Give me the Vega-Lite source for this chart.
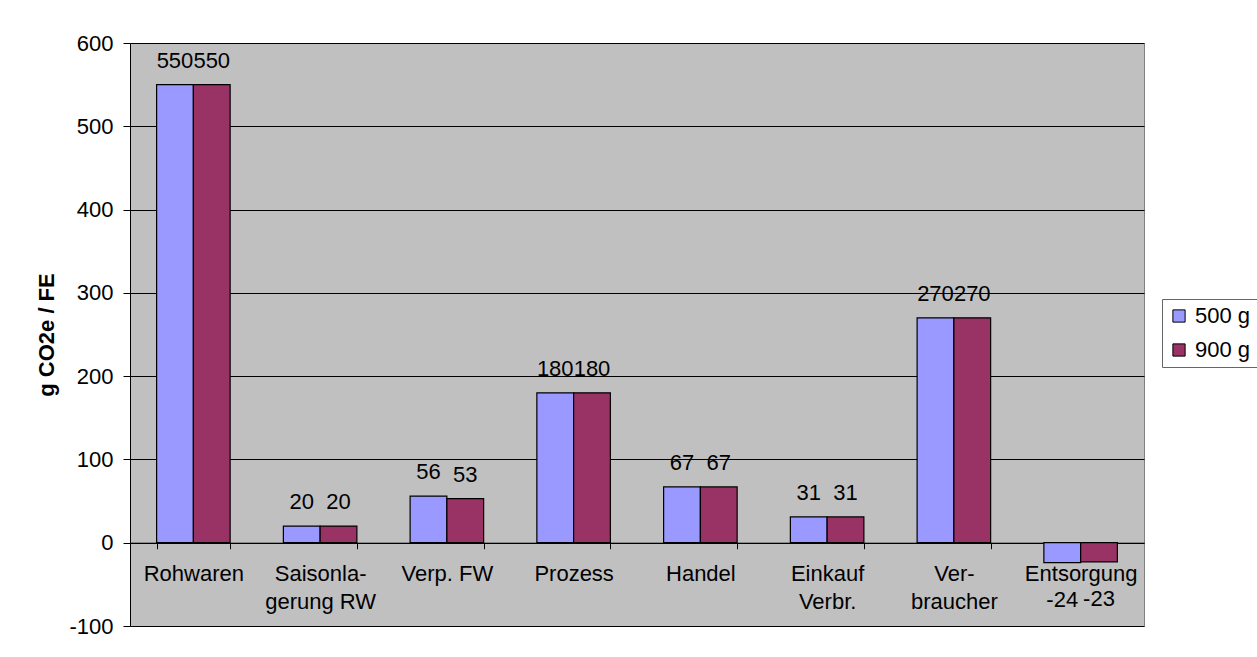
{
  "$schema": "https://vega.github.io/schema/vega-lite/v6.json",
  "autosize": {"type": "none"},
  "width": 1014,
  "height": 583,
  "padding": {"left": 130, "top": 43, "right": 113, "bottom": 31},
  "background": "#FFFFFF",
  "config": {
    "font": "Liberation Sans",
    "view": {"fill": "#C0C0C0", "stroke": "#808080", "strokeWidth": 1},
    "axis": {"labelFont": "Liberation Sans", "labelFontSize": 22, "labelColor": "#000000", "titleFont": "Liberation Sans"}
  },
  "data": {
    "values": [
      {"cat": "Rohwaren", "series": "500 g", "value": 550},
      {"cat": "Rohwaren", "series": "900 g", "value": 550},
      {"cat": "Saisonla-|gerung RW", "series": "500 g", "value": 20},
      {"cat": "Saisonla-|gerung RW", "series": "900 g", "value": 20},
      {"cat": "Verp. FW", "series": "500 g", "value": 56},
      {"cat": "Verp. FW", "series": "900 g", "value": 53},
      {"cat": "Prozess", "series": "500 g", "value": 180},
      {"cat": "Prozess", "series": "900 g", "value": 180},
      {"cat": "Handel", "series": "500 g", "value": 67},
      {"cat": "Handel", "series": "900 g", "value": 67},
      {"cat": "Einkauf|Verbr.", "series": "500 g", "value": 31},
      {"cat": "Einkauf|Verbr.", "series": "900 g", "value": 31},
      {"cat": "Ver-|braucher", "series": "500 g", "value": 270},
      {"cat": "Ver-|braucher", "series": "900 g", "value": 270},
      {"cat": "Entsorgung", "series": "500 g", "value": -24},
      {"cat": "Entsorgung", "series": "900 g", "value": -23}
    ]
  },
  "encoding": {
    "x": {
      "field": "cat",
      "type": "nominal",
      "sort": null,
      "scale": {"paddingInner": 0.42, "paddingOuter": 0.21},
      "axis": {
        "title": null,
        "offset": -83.29,
        "labelAngle": 0,
        "labelExpr": "split(datum.label, '|')",
        "labelLineHeight": 28,
        "labelPadding": 15,
        "tickBand": "extent",
        "tickSize": 6,
        "tickColor": "#000000",
        "domainColor": "#000000",
        "grid": false,
        "labelBaseline": "top"
      }
    },
    "xOffset": {"field": "series", "type": "nominal", "scale": {"paddingInner": 0, "paddingOuter": 0}},
    "y": {
      "field": "value",
      "type": "quantitative",
      "scale": {"domain": [-100, 600], "nice": false, "zero": false},
      "axis": {
        "title": "g CO2e / FE",
        "titleFontSize": 22,
        "titleFontWeight": "bold",
        "titleColor": "#000000",
        "titlePadding": 10,
        "values": [-100, 0, 100, 200, 300, 400, 500, 600],
        "labelExpr": "'' + datum.value",
        "tickSize": 7,
        "labelPadding": 10,
        "tickColor": "#000000",
        "domainColor": "#000000",
        "grid": true,
        "gridColor": "#000000",
        "gridWidth": 1
      }
    }
  },
  "layer": [
    {
      "mark": {"type": "bar", "stroke": "#000000", "strokeWidth": 1.2},
      "encoding": {
        "color": {
          "field": "series",
          "type": "nominal",
          "scale": {"domain": ["500 g", "900 g"], "range": ["#9999FF", "#993366"]},
          "legend": {
            "title": null,
            "orient": "none",
            "legendX": 1032,
            "legendY": 256,
            "direction": "vertical",
            "symbolType": "square",
            "symbolSize": 150,
            "symbolStrokeColor": "#000000",
            "symbolStrokeWidth": 1,
            "labelFontSize": 22,
            "labelFont": "Liberation Sans",
            "labelColor": "#000000",
            "labelOffset": 5,
            "rowPadding": 12,
            "padding": 6,
            "strokeColor": "#666666",
            "fillColor": "#FFFFFF"
          }
        }
      }
    },
    {
      "transform": [{"filter": "datum.value >= 0"}],
      "mark": {"type": "text", "fontSize": 22, "font": "Liberation Sans", "color": "#000000", "baseline": "alphabetic", "dy": -17},
      "encoding": {"text": {"field": "value", "type": "nominal"}}
    },
    {
      "transform": [{"filter": "datum.value < 0"}],
      "mark": {"type": "text", "fontSize": 22, "font": "Liberation Sans", "color": "#000000", "baseline": "alphabetic", "dy": 44},
      "encoding": {"text": {"field": "value", "type": "nominal"}}
    }
  ]
}
